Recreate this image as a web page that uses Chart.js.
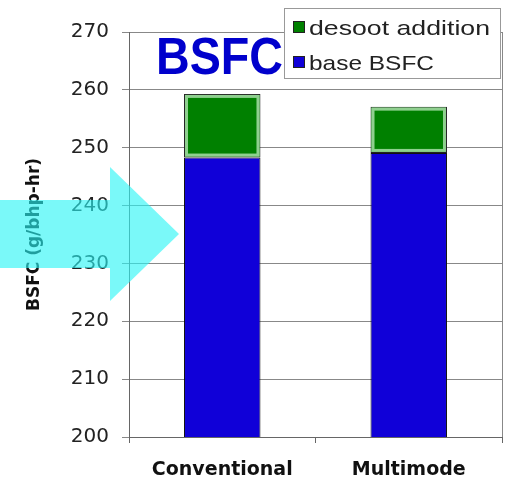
<!DOCTYPE html>
<html><head><meta charset="utf-8">
<script src="https://cdn.jsdelivr.net/npm/chart.js@4"></script>
<style>html,body{margin:0;padding:0;background:#fff}#wrap{width:507px;height:480px}</style>
</head><body><div id="wrap"><canvas id="c" width="507" height="480"></canvas></div>
<script>
const categories = ["Conventional", "Multimode"];
const baseBSFC = [248.3, 249.1];
const desootAddition = [11.0, 8.0];
const yTicks = [200, 210, 220, 230, 240, 250, 260, 270];
const seriesLabels = ["base BSFC", "desoot addition"];
const FONT = "'DejaVu Sans', 'Liberation Sans', Arial, sans-serif";
const AFONT = "'Liberation Sans', Arial, sans-serif";

function fitText(ctx, text, x, y, targetW) {
  const w = ctx.measureText(text).width;
  ctx.save();
  ctx.translate(x, y);
  ctx.scale(targetW / w, 1);
  ctx.fillText(text, 0, 0);
  ctx.restore();
}

const overlay = {
  id: 'overlay',
  afterDatasetsDraw(chart) {
    const ctx = chart.ctx;
    const meta = chart.getDatasetMeta(1);
    ctx.save();
    meta.data.forEach(b => {
      const x0 = b.x - b.width / 2, x1 = b.x + b.width / 2;
      const top = Math.min(b.y, b.base), bot = Math.max(b.y, b.base);
      ctx.strokeStyle = '#8fd08f';
      ctx.lineWidth = 3;
      ctx.strokeRect(x0 + 2.5, top + 2.5, x1 - x0 - 5, bot - top - 5);
    });
    ctx.restore();
  },
  afterDraw(chart) {
    const ctx = chart.ctx;
    const a = chart.chartArea;
    ctx.save();
    ctx.strokeStyle = '#888';
    ctx.lineWidth = 1;
    ctx.beginPath();
    ctx.moveTo(a.right + 0.5, a.top);
    ctx.lineTo(a.right + 0.5, a.bottom);
    ctx.stroke();
    ctx.fillStyle = '#0000cc';
    ctx.font = "bold 52px " + AFONT;
    ctx.textBaseline = 'alphabetic';
    fitText(ctx, 'BSFC', 156, 74, 127);
    ctx.fillStyle = '#fff';
    ctx.fillRect(284, 8, 216, 70);
    ctx.strokeStyle = '#999';
    ctx.strokeRect(284.5, 8.5, 216, 70);
    const items = [[seriesLabels[1], '#008000', 27, 181], [seriesLabels[0], '#1000d8', 62, 125]];
    ctx.font = "21px " + AFONT;
    ctx.textBaseline = 'alphabetic';
    items.forEach(([t, c, y, w]) => {
      ctx.fillStyle = c;
      ctx.fillRect(293, y - 6, 12, 12);
      ctx.strokeStyle = '#222';
      ctx.strokeRect(293.5, y - 5.5, 11, 11);
      ctx.fillStyle = '#222';
      fitText(ctx, t, 309, y + 8, w);
    });
    ctx.fillStyle = 'rgba(40,245,245,0.62)';
    ctx.beginPath();
    ctx.moveTo(0, 200);
    ctx.lineTo(110, 200);
    ctx.lineTo(110, 167);
    ctx.lineTo(179, 234);
    ctx.lineTo(110, 301);
    ctx.lineTo(110, 268);
    ctx.lineTo(0, 268);
    ctx.closePath();
    ctx.fill();
    ctx.restore();
  }
};

new Chart(document.getElementById('c'), {
  type: 'bar',
  data: {
    labels: categories,
    datasets: [
      { label: seriesLabels[0], data: baseBSFC, backgroundColor: '#1000d8', borderColor: '#111', borderWidth: 1, barPercentage: 0.82, categoryPercentage: 0.5, borderSkipped: false },
      { label: seriesLabels[1], data: desootAddition, backgroundColor: '#008000', borderColor: '#222', borderWidth: 1, barPercentage: 0.82, categoryPercentage: 0.5, borderSkipped: false }
    ]
  },
  options: {
    responsive: false,
    animation: false,
    layout: { padding: { top: 32, right: 5, left: 0, bottom: 0 } },
    plugins: { legend: { display: false }, tooltip: { enabled: false } },
    scales: {
      x: {
        stacked: true,
        grid: { drawOnChartArea: false, drawTicks: true, tickLength: 6, color: '#666', offset: true },
        border: { color: '#666' },
        ticks: { color: '#111', font: { family: FONT, size: 19, weight: 'bold' }, padding: 16 },
        afterFit(s) { s.height = 43; }
      },
      y: {
        stacked: true,
        min: 200, max: 270,
        afterBuildTicks(s) { s.ticks = yTicks.map(v => ({ value: v })); },
        grid: { color: '#888', tickLength: 7 },
        border: { color: '#666' },
        ticks: { color: '#222', font: { family: FONT, size: 20 }, padding: 13 },
        title: { display: true, text: 'BSFC (g/bhp-hr)', color: '#111', font: { family: FONT, size: 17, weight: 'bold' }, padding: { top: 24, bottom: 0 } },
        afterFit(s) { s.width = 129; }
      }
    }
  },
  plugins: [overlay]
});
</script>
</body></html>
